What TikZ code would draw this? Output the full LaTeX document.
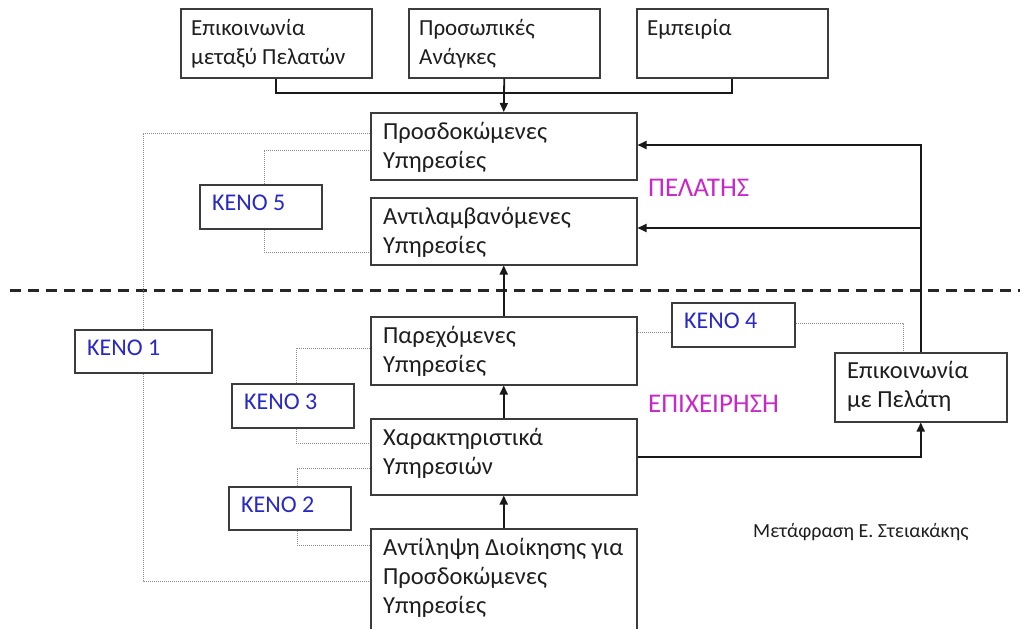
\documentclass[tikz,border=0pt]{standalone}
\usepackage{fontspec}
\setmainfont{Carlito}
\usetikzlibrary{calc,arrows.meta}
\definecolor{kblue}{RGB}{40,40,200}
\definecolor{kmag}{RGB}{200,40,200}
\definecolor{bgray}{RGB}{60,60,60}
\definecolor{dgray}{RGB}{140,140,140}
\definecolor{tgray}{RGB}{30,30,30}
\newcommand\tfs{\fontsize{23}{29}\selectfont}
\newcommand\bfs{\fontsize{24.5}{29}\selectfont}
\newcommand\kfs{\fontsize{24}{29}\selectfont}
\newcommand\lfs{\fontsize{27}{30}\selectfont}
\newcommand\sfs{\fontsize{20}{24}\selectfont}
\begin{document}
\begin{tikzpicture}[x=1pt,y=-1pt,
  box/.style={draw=bgray, line width=1.5pt, fill=white, anchor=north west, inner sep=0pt},
  txt/.style={anchor=north west, inner sep=0pt, align=left, font=\bfs, text=tgray},
  ttxt/.style={txt, font=\tfs},
  ktxt/.style={anchor=north west, inner sep=0pt, font=\kfs, text=kblue},
  lbl/.style={anchor=base west, inner sep=0pt, font=\lfs, text=kmag},
  conn/.style={line width=1.8pt, draw=black!90},
  arr/.style={conn, -{Triangle[length=9pt,width=8pt]}},
  dot/.style={draw=dgray, line width=1pt, dash pattern=on 1pt off 1pt}]
\useasboundingbox (0,0) rectangle (1026,629);

% dashed separator
\coordinate (dl) at (10,290);
\coordinate (dr) at (1020,290);
\draw[line width=3pt, dash pattern=on 11pt off 7pt, black!85] (dl) -- (dr);

% boxes
\node[box, minimum width=191pt, minimum height=69pt] (top1) at (180,8) {};
\node[box, minimum width=191pt, minimum height=69pt] (top2) at (408,8) {};
\node[box, minimum width=191pt, minimum height=69pt] (top3) at (636,8) {};
\node[box, minimum width=266pt, minimum height=67pt] (pros) at (370,112) {};
\node[box, minimum width=266pt, minimum height=67pt] (antil) at (370,197) {};
\node[box, minimum width=266pt, minimum height=68pt] (parex) at (370,316) {};
\node[box, minimum width=266pt, minimum height=76pt] (xar) at (370,418) {};
\node[box, minimum width=266pt, minimum height=112pt] (diok) at (370,528) {};
\node[box, minimum width=172pt, minimum height=69pt] (epik) at (834,352) {};

% dotted gap connectors (behind KENO boxes)
\draw[dot] ($(pros.north west)+(0,21)$) -| (143,581) -- ($(diok.north west)+(0,53)$);
\draw[dot] (264,184) |- ($(pros.north west)+(0,38)$);
\draw[dot] (264,228) |- ($(antil.north west)+(0,55)$);
\draw[dot] (296,383) |- ($(parex.north west)+(0,32)$);
\draw[dot] (296,427) |- ($(xar.north west)+(0,25)$);
\draw[dot] (297,486) |- ($(xar.north west)+(0,50)$);
\draw[dot] (297,529) |- ($(diok.north west)+(0,17)$);
\draw[dot] ($(parex.north east)+(0,16)$) -- (671,332);
\draw[dot] (794,323) -| ($(epik.north west)+(69,0)$);

% KENO boxes
\node[box, minimum width=137pt, minimum height=43pt] (k1) at (74,329) {};
\node[box, minimum width=122pt, minimum height=43pt] (k2) at (228,486) {};
\node[box, minimum width=122pt, minimum height=44pt] (k3) at (231,383) {};
\node[box, minimum width=123pt, minimum height=44pt] (k4) at (671,302) {};
\node[box, minimum width=122pt, minimum height=44pt] (k5) at (199,184) {};

% texts
\node[ttxt] (t1) at ($(top1.north west)+(11,7)$) {\strut Επικοινωνία\\μεταξύ Πελατών};
\node[ttxt] (t2) at ($(top2.north west)+(11,7)$) {\strut Προσωπικές\\Ανάγκες};
\node[ttxt] (t3) at ($(top3.north west)+(11,7)$) {\strut Εμπειρία};
\node[txt] (tpros) at ($(pros.north west)+(13,7)$) {\strut Προσδοκώμενες\\Υπηρεσίες};
\node[txt] (tantil) at ($(antil.north west)+(13,7)$) {\strut Αντιλαμβανόμενες\\Υπηρεσίες};
\node[txt] (tparex) at ($(parex.north west)+(13,7)$) {\strut Παρεχόμενες\\Υπηρεσίες};
\node[txt] (txar) at ($(xar.north west)+(13,7)$) {\strut Χαρακτηριστικά\\Υπηρεσιών};
\node[txt] (tdiok) at ($(diok.north west)+(13,7)$) {\strut Αντίληψη Διοίκησης για\\Προσδοκώμενες\\Υπηρεσίες};
\node[txt] (tepik) at ($(epik.north west)+(13,6)$) {\strut Επικοινωνία\\με Πελάτη};
\node[ktxt] (tk1) at ($(k1.north west)+(13,6)$) {\strut ΚΕΝΟ 1};
\node[ktxt] (tk2) at ($(k2.north west)+(13,6)$) {\strut ΚΕΝΟ 2};
\node[ktxt] (tk3) at ($(k3.north west)+(13,6)$) {\strut ΚΕΝΟ 3};
\node[ktxt] (tk4) at ($(k4.north west)+(13,6)$) {\strut ΚΕΝΟ 4};
\node[ktxt] (tk5) at ($(k5.north west)+(13,6)$) {\strut ΚΕΝΟ 5};
\node[lbl] (pel) at (648,196) {ΠΕΛΑΤΗΣ};
\node[lbl] (epix) at (648,412) {ΕΠΙΧΕΙΡΗΣΗ};
\node[anchor=base west, inner sep=0pt, font=\sfs, text=tgray] (met) at (753,537) {Μετάφραση Ε. Στειακάκης};

% solid connectors
\draw[conn] (top1.south) |- (top3.south |- 0,93) -- (top3.south);
\draw[arr] (top2.south) -- (pros.north);
\draw[arr] (diok.north) -- (xar.south);
\draw[arr] (xar.north) -- (parex.south);
\draw[arr] (parex.north) -- (antil.south);
\draw[arr] (epik.north) |- ($(pros.north east)+(0,33)$);
\draw[arr] (epik.north |- 0,228) -- ($(antil.north east)+(0,31)$);
\draw[arr] (xar.east) -| (epik.south);
\end{tikzpicture}
\end{document}
